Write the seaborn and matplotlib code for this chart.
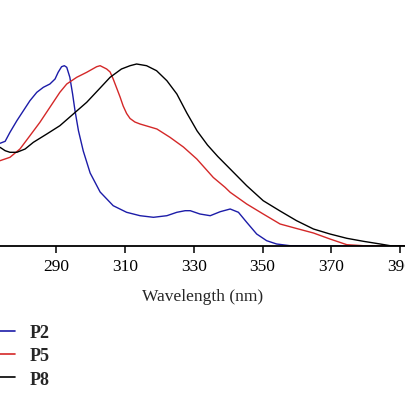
import matplotlib
matplotlib.use("Agg")
import matplotlib.pyplot as plt
from matplotlib.lines import Line2D
import seaborn as sns
import pandas as pd

# P2 (blue)
p2_nm = [273.7, 275.2, 276.6, 278.6, 280.5, 282.4, 284.4, 286.3, 288.2, 289.7, 290.6, 291.6,
         292.4, 293.1, 294.0, 294.8, 295.5, 296.5, 297.9, 299.9, 302.8, 306.6, 310.5, 314.4,
         318.3, 322.2, 325.1, 327.5, 329.0, 331.8, 334.8, 337.7, 340.6, 343.0, 345.4, 348.3,
         351.2, 354.1, 358.0, 370.0, 392.0]
p2_val = [102.7, 104.7, 113.7, 125.3, 135.3, 145.3, 153.7, 158.7, 162.0, 167.0, 173.7, 179.3,
          180.3, 178.7, 168.7, 152.0, 135.3, 115.3, 95.0, 73.0, 54.0, 40.3, 33.7, 30.3,
          28.7, 30.3, 33.7, 35.3, 35.3, 32.0, 30.3, 34.3, 37.0, 33.7, 23.7, 12.0,
          5.3, 2.0, 0.3, 0.0, 0.0]

# P5 (red)
p5_nm = [273.7, 276.6, 279.5, 282.4, 285.3, 288.2, 291.1, 293.1, 296.0, 298.9, 301.8, 302.8,
         304.7, 305.7, 306.6, 307.6, 308.6, 309.5, 310.5, 311.5, 312.9, 314.4, 319.3, 323.1,
         327.0, 330.9, 335.7, 339.1, 340.6, 345.4, 350.2, 355.1, 359.9, 364.8,
         369.6, 374.5, 379.3, 392.0]
p5_val = [85.3, 88.7, 97.0, 110.3, 123.7, 138.7, 153.7, 162.0, 168.7, 173.7, 179.3, 180.3,
          177.0, 174.0, 167.0, 158.0, 149.0, 140.0, 132.5, 127.5, 124.0, 122.0, 117.0, 108.7,
          99.0, 87.0, 68.5, 58.7, 53.7, 42.0, 32.0, 22.0, 17.5, 13.0,
          7.0, 1.3, 0.3, 0.0]

# P8 (black)
p8_nm = [273.7, 275.2, 276.6, 278.6, 281.0, 283.4, 287.3, 291.1, 295.0, 298.9, 302.8, 305.7,
         309.0, 311.5, 313.4, 316.3, 319.2, 322.2, 325.1, 328.0, 331.0, 334.0, 337.0,
         340.6, 345.4, 350.2, 355.1, 359.9, 364.8, 369.6, 374.5, 379.3, 384.2, 387.1,
         392.0]
p8_val = [98.7, 95.3, 93.7, 93.7, 97.0, 103.7, 112.0, 120.3, 132.0, 143.7, 158.0, 168.7,
          177.0, 180.3, 182.0, 180.3, 175.3, 165.3, 152.0, 133.0, 115.0, 101.0, 89.5,
          77.0, 60.3, 45.3, 35.0, 25.3, 17.0, 12.0, 7.7, 4.7, 2.0, 0.3,
          0.0]

series_names = ["P2", "P5", "P8"]
series_colors = ["#1c1ca8", "#d42828", "#000000"]
x_ticks = [270, 290, 310, 330, 350, 370, 390]

rows = []
for name, xs, ys in zip(series_names, [p2_nm, p5_nm, p8_nm], [p2_val, p5_val, p8_val]):
    for x, y in zip(xs, ys):
        rows.append({"Wavelength": x, "Value": y, "Series": name})
df = pd.DataFrame(rows)

sns.set_style("white")
plt.rcParams["font.family"] = ["Liberation Serif", "DejaVu Serif"]

fig = plt.figure(figsize=(4.06, 4.06), dpi=100)
ax = fig.add_axes([0.0, (406 - 247) / 406, 1.0, 247 / 406])

sns.lineplot(data=df, x="Wavelength", y="Value", hue="Series",
             palette=dict(zip(series_names, series_colors)), linewidth=1.0,
             ax=ax, legend=False, sort=True)

ax.set_xticks(x_ticks)
ax.set_xlim(273.7, 391.7)
ax.set_ylim(0, 247)
ax.set_yticks([])
for s in ["top", "right", "left"]:
    ax.spines[s].set_visible(False)
ax.spines["bottom"].set_color("black")
ax.spines["bottom"].set_linewidth(1.3)
ax.tick_params(axis="x", direction="out", length=5, width=1.1, colors="black",
               labelsize=12.5, pad=4, bottom=True)
ax.set_xlabel("Wavelength (nm)", fontsize=12.5, labelpad=10)
ax.set_ylabel("")

handles = [Line2D([0], [0], color=c, lw=1.2) for c in series_colors]
fig.legend(handles, series_names, loc="upper left", bbox_to_anchor=(-0.052, 1 - 325 / 406),
           frameon=False, borderaxespad=0, borderpad=0, handlelength=2.0,
           handletextpad=0.8, labelspacing=0.35,
           prop={"family": "Liberation Serif", "weight": "bold", "size": 13})

fig.savefig("out.png", dpi=100)
